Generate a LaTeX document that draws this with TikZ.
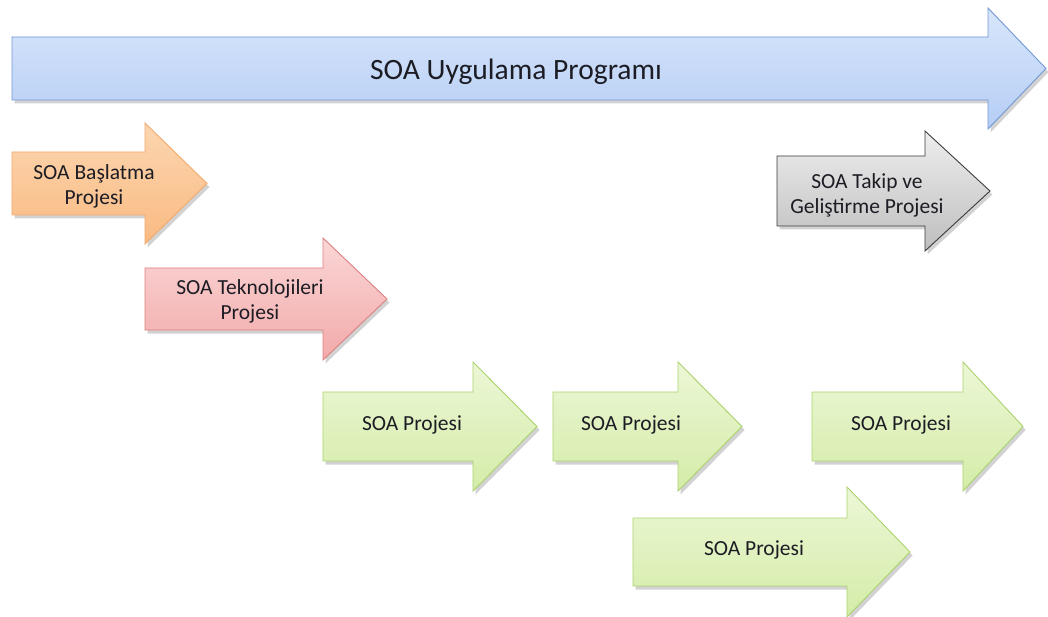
\documentclass[tikz,border=0pt]{standalone}
\usepackage{fontspec}
\setmainfont{Carlito}
\usetikzlibrary{shadows}
\definecolor{txt}{HTML}{1C1C24}
\tikzset{
  shp/.style={line width=0.9pt, line join=miter, drop shadow={shadow xshift=2.5pt, shadow yshift=-3.5pt, opacity=0.35}},
  bluearr/.style={shp, draw={rgb,255:red,114;green,152;blue,214}, top color={rgb,255:red,216;green,230;blue,251}, bottom color={rgb,255:red,181;green,205;blue,245}},
  orangearr/.style={shp, draw={rgb,255:red,244;green,170;blue,108}, top color={rgb,255:red,252;green,214;blue,176}, bottom color={rgb,255:red,249;green,186;blue,130}},
  redarr/.style={shp, draw={rgb,255:red,222;green,128;blue,128}, top color={rgb,255:red,250;green,214;blue,214}, bottom color={rgb,255:red,243;green,170;blue,170}},
  grayarr/.style={shp, draw={rgb,255:red,60;green,60;blue,60}, top color={rgb,255:red,238;green,238;blue,238}, bottom color={rgb,255:red,190;green,190;blue,190}},
  greenarr/.style={shp, draw={rgb,255:red,170;green,210;blue,110}, top color={rgb,255:red,236;green,247;blue,214}, bottom color={rgb,255:red,212;green,236;blue,168}},
  lbl/.style={text=txt, font=\fontsize{21.5}{25}\selectfont, align=center, inner sep=0pt},
  title/.style={text=txt, font=\fontsize{29.5}{33}\selectfont, inner sep=0pt}
}
\begin{document}
\begin{tikzpicture}[x=1pt,y=-1pt]
\useasboundingbox[fill=white] (0,0) rectangle (1048,617);
% main program arrow
\path[bluearr] (12,37) -- (988,37) -- (988,8) -- (1046,68.5) -- (988,129) -- (988,100) -- (12,100) -- cycle;
% start project
\path[orangearr] (12,152) -- (145,152) -- (145,123) -- (207,183.5) -- (145,244) -- (145,215) -- (12,215) -- cycle;
% technologies
\path[redarr] (145,268) -- (323,268) -- (323,238) -- (387,299) -- (323,360) -- (323,330) -- (145,330) -- cycle;
% follow-up
\path[grayarr] (777,156) -- (925,156) -- (925,131) -- (990,191) -- (925,251) -- (925,226) -- (777,226) -- cycle;
% SOA projects
\path[greenarr] (323,392) -- (473,392) -- (473,362) -- (537,426.5) -- (473,491) -- (473,461) -- (323,461) -- cycle;
\path[greenarr] (553,392) -- (678,392) -- (678,362) -- (742,426.5) -- (678,491) -- (678,461) -- (553,461) -- cycle;
\path[greenarr] (812,392) -- (963,392) -- (963,362) -- (1023,426.5) -- (963,491) -- (963,461) -- (812,461) -- cycle;
\path[greenarr] (633,518) -- (847,518) -- (847,487) -- (910,552) -- (847,617) -- (847,586) -- (633,586) -- cycle;
% labels
\node[title] (t0) at (516,72) {SOA Uygulama Programı};
\node[lbl] (t1) at (94,186) {SOA Başlatma\\Projesi};
\node[lbl] (t2) at (250,301) {SOA Teknolojileri\\Projesi};
\node[lbl] (t3) at (867,195) {SOA Takip ve\\Geliştirme Projesi};
\node[lbl] (t4) at (412,425) {SOA Projesi};
\node[lbl] (t5) at (631,425) {SOA Projesi};
\node[lbl] (t6) at (901,425) {SOA Projesi};
\node[lbl] (t7) at (754,550) {SOA Projesi};
\end{tikzpicture}
\end{document}
